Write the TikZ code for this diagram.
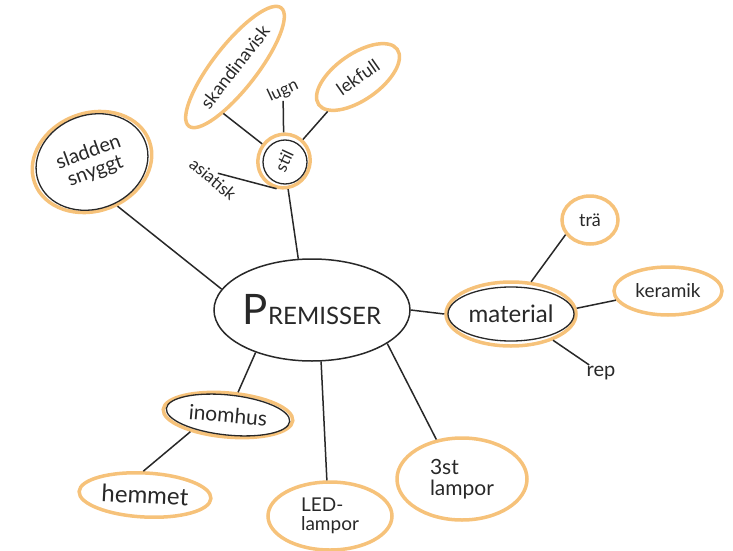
\documentclass[tikz,border=0pt]{standalone}
\usepackage{fontspec}
\setmainfont{Lato}
\usetikzlibrary{shapes.geometric}

\definecolor{ink}{RGB}{40,40,40}
\definecolor{marker}{RGB}{246,194,122}

\tikzset{
  ring/.style={ellipse, draw=marker, line width=3.5pt, inner sep=0pt, text=ink},
  word/.style={text=ink, inner sep=1pt},
  branch/.style={draw=ink, line width=1.5pt},
  inkline/.style={draw=ink, line width=1.3pt},
}
\newcommand{\fs}[1]{\fontsize{#1}{#1}\selectfont}

\begin{document}
\begin{tikzpicture}[x=1pt, y=-1pt]
\useasboundingbox (0,0) rectangle (733,551);

% centre
\node[ellipse, draw=ink, line width=1.5pt, inner sep=0pt, minimum width=196, minimum height=102, text=ink] (prem) at (312,310) {\fs{42}P\fs{24}REMISSER};

% stil and its words
\node[ring, rotate=65, minimum width=54, minimum height=52, font=\fs{17}] (stil) at (284,161) {stil};
\draw[inkline] (stil.center) ++(1,1) circle (22);
\node[ring, rotate=52, minimum width=150, minimum height=44, font=\fs{18}] (skand) at (235,67) {skandinavisk};
\node[word, rotate=25, font=\fs{17}] (lugn) at (283,91) {lugn};
\node[ring, rotate=35, minimum width=96, minimum height=46, font=\fs{18}] (lekfull) at (358,77) {lekfull};
\node[word, rotate=-40, font=\fs{17}] (asiatisk) at (213,179) {asiatisk};

\draw[branch] (stil) -- (prem.105);
\draw[branch] (skand.204) -- (stil);
\draw[branch] (lugn) -- (stil);
\draw[branch] (lekfull) -- (stil);
\draw[branch] (asiatisk.north) -- (stil.190);

% sladden
\node[ring, rotate=20, minimum width=122, minimum height=98, align=center, font=\fs{20}] (sladden) at (92,162) {sladden\\snyggt};
\draw[inkline, rotate around={20:(sladden.center)}] (sladden.center) ellipse [x radius=57, y radius=47];
\draw[branch] (sladden.-80) -- (prem.167);

% material
\node[ring, minimum width=130, minimum height=64, font=\fs{24}] (material) at (511,314) {material};
\draw[inkline] (material.center) ellipse [x radius=63, y radius=27];
\node[ring, minimum width=56, minimum height=48, font=\fs{18}] (tra) at (590,220) {trä};
\node[ring, minimum width=108, minimum height=48, font=\fs{19}] (keramik) at (668,291) {keramik};
\node[word, font=\fs{20}] (rep) at (601,373) {rep};

\draw[branch] (prem.0) -- (material.180);
\draw[branch] (material.58) -- (tra.211);
\draw[branch] (material.5) -- (keramik.190);
\draw[branch] (material.-32) -- (rep);

% inomhus
\node[ring, rotate=-5, minimum width=130, minimum height=44, font=\fs{21}] (inomhus) at (228,415) {inomhus};
\draw[inkline, rotate around={-6:(inomhus.center)}] (inomhus.center) ellipse [x radius=62, y radius=20];
\node[ring, rotate=-3, minimum width=132, minimum height=44, font=\fs{24}] (hemmet) at (145,495) {hemmet};

\draw[branch] (prem.-143) -- (inomhus);
\draw[branch] (inomhus.209) -- (hemmet.97);

% lampor
\node[ring, minimum width=124, minimum height=68, align=left, font=\fs{19}] (led) at (330,516) {LED-\\lampor};
\node[ring, minimum width=130, minimum height=82, align=left, font=\fs{21}] (three) at (462,479) {3st\\lampor};

\draw[branch] (prem.-80) -- (led.95);
\draw[branch] (prem.-24) -- (three.123);

\end{tikzpicture}
\end{document}
